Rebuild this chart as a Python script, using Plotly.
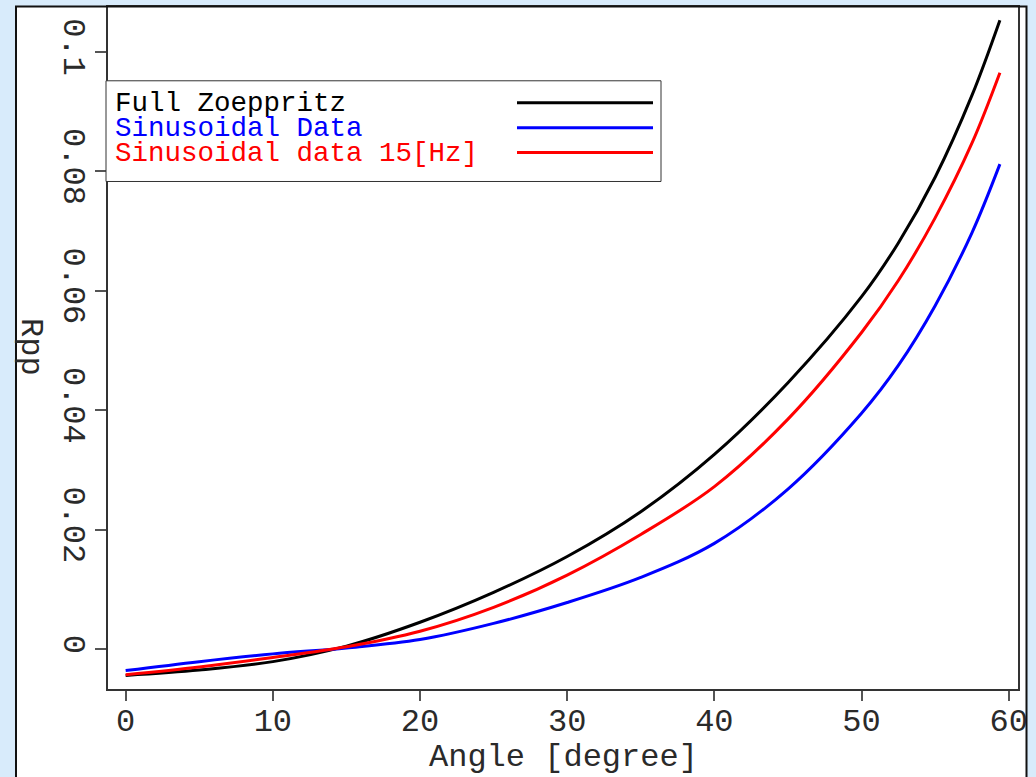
import plotly.graph_objects as go

# Reflection coefficient versus incidence angle
angle = [0, 5, 10, 15, 20, 25, 30, 35, 40, 45, 50, 52.5, 55, 57.5, 59.4]
rpp_zoeppritz = [-0.0044, -0.0035, -0.0021, 0.0005, 0.0045, 0.0095, 0.0155, 0.0230,
                 0.0326, 0.0446, 0.0590, 0.0680, 0.0790, 0.0927, 0.1053]
rpp_sinusoidal = [-0.0036, -0.0021, -0.0008, 0.0002, 0.0016, 0.0043, 0.0078, 0.0120,
                  0.0177, 0.0268, 0.0395, 0.0475, 0.0575, 0.0697, 0.0812]
rpp_sinusoidal_15hz = [-0.0043, -0.0030, -0.0014, 0.0004, 0.0030, 0.0070, 0.0124, 0.0192,
                       0.0272, 0.0385, 0.0530, 0.0617, 0.0722, 0.0847, 0.0965]

series_names = ["Full Zoeppritz", "Sinusoidal Data", "Sinusoidal data 15[Hz]"]
series_colors = ["#000000", "#0000ff", "#ff0000"]
series_values = [rpp_zoeppritz, rpp_sinusoidal, rpp_sinusoidal_15hz]

x_ticks = [0, 10, 20, 30, 40, 50, 60]
y_ticks = [0, 0.02, 0.04, 0.06, 0.08, 0.1]
y_tick_text = ["0", "0.02", "0.04", "0.06", "0.08", "0.1"]

FONT = "Liberation Mono"
TEXT = "#2a2a2a"
BG = "#d8ebfb"

fig = go.Figure()
for name, color, vals in zip(series_names, series_colors, series_values):
    fig.add_trace(go.Scatter(
        x=angle, y=vals, name=name, mode="lines",
        line=dict(color=color, width=3, shape="spline", smoothing=1.0),
        showlegend=False,
    ))

# Plot area spans px 108..1018 horizontally and 5..689 vertically
L, R, T, B = 108, 1018, 5, 689
W, H = R - L, B - T


def px(xp):
    return (xp - L) / W


def py(yp):
    return (B - yp) / H


shapes = [
    # white panel behind the plot
    dict(type="rect", xref="paper", yref="paper", layer="below",
         x0=px(16), x1=px(1026.5), y0=py(790), y1=py(4.5),
         fillcolor="white", line=dict(width=0)),
    # strip outside the panel on the right
    dict(type="rect", xref="paper", yref="paper", layer="above",
         x0=px(1027), x1=px(1040), y0=py(790), y1=py(-2),
         fillcolor=BG, line=dict(width=0)),
    # panel border
    dict(type="rect", xref="paper", yref="paper", layer="above",
         x0=px(16), x1=px(1026.5), y0=py(790), y1=py(4.5),
         fillcolor="rgba(0,0,0,0)", line=dict(color="#111111", width=2)),
    # legend box
    dict(type="rect", xref="paper", yref="paper", layer="above",
         x0=px(106), x1=px(661), y0=py(180), y1=py(79),
         fillcolor="white", line=dict(color="#333333", width=1)),
]

annotations = []
legend_rows = [101, 126, 151]
for name, color, yrow in zip(series_names, series_colors, legend_rows):
    shapes.append(dict(type="line", xref="paper", yref="paper", layer="above",
                       x0=px(517), x1=px(653), y0=py(yrow), y1=py(yrow),
                       line=dict(color=color, width=3)))
    annotations.append(dict(xref="paper", yref="paper", x=px(113), y=py(yrow + 1),
                            xanchor="left", yanchor="middle", showarrow=False,
                            text=name, font=dict(family=FONT, size=27.5, color=color)))

annotations.append(dict(xref="paper", yref="paper", x=0.5, y=py(758),
                        xanchor="center", yanchor="middle", showarrow=False,
                        text="Angle [degree]", font=dict(family=FONT, size=32, color=TEXT)))
annotations.append(dict(xref="paper", yref="paper", x=px(31), y=py(346),
                        xanchor="center", yanchor="middle", showarrow=False, textangle=90,
                        text="Rpp", font=dict(family=FONT, size=32, color=TEXT)))

axis_common = dict(
    showgrid=False, zeroline=False, showline=True, mirror=True,
    linecolor="#333333", linewidth=1.5,
    ticks="outside", tickcolor="#555555", tickwidth=1.5,
    tickfont=dict(family=FONT, size=32, color=TEXT),
)

fig.update_layout(
    width=1036, height=777,
    margin=dict(l=L, r=1036 - R, t=T, b=777 - B, pad=0),
    paper_bgcolor=BG, plot_bgcolor="white",
    shapes=shapes, annotations=annotations,
    xaxis=dict(range=[-1.2, 60.63], tickvals=x_ticks, ticklen=10,
               ticklabelstandoff=-8, **axis_common),
    yaxis=dict(range=[-0.00668, 0.1075], tickvals=y_ticks, ticktext=y_tick_text,
               ticklen=11, tickangle=90, ticklabelstandoff=-7, **axis_common),
)

fig.write_html("out.html")
